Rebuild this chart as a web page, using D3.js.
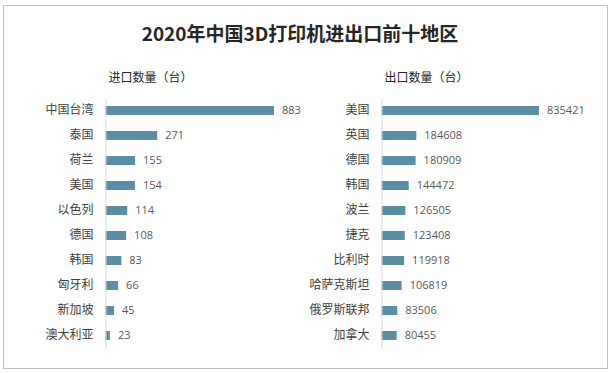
<!DOCTYPE html>
<html><head><meta charset="utf-8">
<script src="https://cdn.jsdelivr.net/npm/d3@7"></script>
<style>body{margin:0;background:#fff}svg{display:block}</style>
</head><body><svg id="c" width="614" height="373"></svg>
<script>
const title = "2020年中国3D打印机进出口前十地区";
const importTitle = "进口数量（台）";
const exportTitle = "出口数量（台）";
const importCats = ["中国台湾","泰国","荷兰","美国","以色列","德国","韩国","匈牙利","新加坡","澳大利亚"];
const importVals = [883,271,155,154,114,108,83,66,45,23];
const exportCats = ["美国","英国","德国","韩国","波兰","捷克","比利时","哈萨克斯坦","俄罗斯联邦","加拿大"];
const exportVals = [835421,184608,180909,144472,126505,123408,119918,106819,83506,80455];

const svg = d3.select("#c");
const cjk = "'Noto Sans CJK SC','Noto Sans',sans-serif";
svg.append("rect").attr("x",3.5).attr("y",5.5).attr("width",604).attr("height",363)
  .attr("fill","#fff").attr("stroke","#bfbfbf");
svg.append("text").attr("x",300).attr("y",41).attr("text-anchor","middle")
  .attr("font-family",cjk).attr("font-weight","bold").attr("font-size",19).attr("fill","#262626").text(title);

function panel(cats, vals, x0, x1, maxV, sub){
  const y = d3.scaleBand().domain(cats).range([98,348]).paddingInner(0.64).paddingOuter(0.32);
  const x = d3.scaleLinear().domain([0,maxV]).range([x0,x1]);
  const g = svg.append("g");
  g.append("text").attr("x",x0+3).attr("y",82).attr("font-family",cjk).attr("font-size",12).attr("fill","#262626").text(sub);
  g.selectAll("rect.b").data(vals).join("rect").attr("class","b")
    .attr("x",x(0)).attr("y",(d,i)=>y(cats[i])).attr("width",d=>x(d)-x(0)).attr("height",y.bandwidth())
    .attr("fill","#5b8ea5");
  const ax = d3.axisLeft(y).tickSize(0).tickPadding(12);
  const a = g.append("g").attr("transform",`translate(${x0},0)`).call(ax);
  a.select(".domain").attr("stroke","#d9d9d9");
  a.selectAll("text").attr("font-family",cjk).attr("font-size",12).attr("fill","#404040");
  g.selectAll("text.v").data(vals).join("text").attr("class","v")
    .attr("x",d=>x(d)+8).attr("y",(d,i)=>y(cats[i])+y.bandwidth()/2).attr("dy","0.35em")
    .attr("font-family","'Open Sans',sans-serif").attr("font-size",11).attr("fill","#595959").text(d=>d);
}
panel(importCats, importVals, 105.5, 274, 883, importTitle);
panel(exportCats, exportVals, 381.5, 539, 835421, exportTitle);
</script></body></html>
